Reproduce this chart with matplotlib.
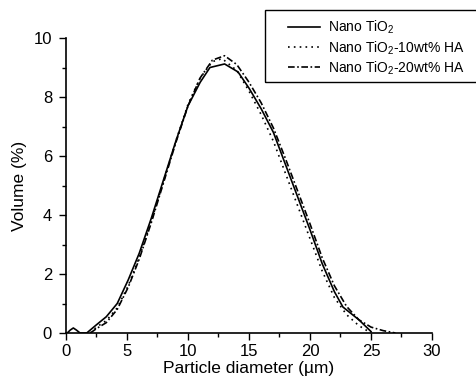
# Particle size distribution of nano TiO2 with HA

import matplotlib
matplotlib.use("Agg")
import matplotlib.pyplot as plt
from matplotlib.patches import Rectangle

plt.rcParams['font.family'] = ['Liberation Sans', 'DejaVu Sans']
plt.rcParams['mathtext.fontset'] = 'custom'
plt.rcParams['mathtext.rm'] = 'Liberation Sans'
plt.rcParams['mathtext.it'] = 'Liberation Sans:italic'

# Nano TiO2
x_tio2 = [0.1, 0.35, 0.6, 0.85, 1.15, 1.7, 2.5, 3.3, 4.2, 5.1, 6.0, 7.0, 8.0, 9.0,
          10.0, 11.0, 11.8, 13.0, 14.1, 15.0, 16.0, 17.0, 18.0, 19.0, 20.0,
          21.0, 22.0, 22.7, 24.0, 25.0]
y_tio2 = [0.0, 0.1, 0.17, 0.1, 0.0, 0.0, 0.28, 0.55, 1.0, 1.8, 2.7, 3.9, 5.2, 6.5,
          7.7, 8.5, 9.0, 9.12, 8.85, 8.3, 7.6, 6.8, 5.7, 4.6, 3.5,
          2.35, 1.4, 0.88, 0.45, 0.05]

# Nano TiO2-10wt% HA
x_10ha = [2.0, 2.5, 3.3, 4.2, 5.1, 6.0, 7.0, 8.0, 9.0, 10.0, 11.0, 12.0, 12.8,
          14.0, 15.0, 16.0, 17.0, 18.0, 19.0, 20.0, 21.0, 22.0, 23.0, 24.0, 25.0]
y_10ha = [0.0, 0.2, 0.42, 0.85, 1.6, 2.55, 3.8, 5.15, 6.5, 7.75, 8.65, 9.2, 9.3,
          8.9, 8.2, 7.4, 6.5, 5.4, 4.3, 3.2, 2.1, 1.2, 0.62, 0.25, 0.0]

# Nano TiO2-20wt% HA
x_20ha = [2.0, 2.5, 3.3, 4.2, 5.1, 6.0, 7.0, 8.0, 9.0, 10.0, 11.0, 12.0, 13.0,
          14.0, 15.0, 16.0, 17.0, 18.0, 19.0, 20.0, 21.0, 22.0, 23.0, 24.0,
          25.0, 26.0, 27.0]
y_20ha = [0.0, 0.15, 0.35, 0.8, 1.55, 2.5, 3.75, 5.1, 6.45, 7.7, 8.65, 9.25, 9.4,
          9.1, 8.5, 7.8, 6.95, 5.9, 4.8, 3.7, 2.55, 1.6, 0.9, 0.45,
          0.2, 0.08, 0.0]

fig = plt.figure(figsize=(4.77, 3.80), dpi=100)
ax = fig.add_axes([66/477, 1-333/380, 366/477, 295/380])

ax.plot(x_tio2, y_tio2, color='black', lw=1.2, ls='-', label='Nano TiO$_2$')
ax.plot(x_10ha, y_10ha, color='black', lw=1.2, ls=(0, (1, 2.5)),
        label='Nano TiO$_2$-10wt% HA')
ax.plot(x_20ha, y_20ha, color='black', lw=1.2, ls=(0, (4, 1.5, 1, 1.5)),
        label='Nano TiO$_2$-20wt% HA')

ax.set_xlim(0, 30)
ax.set_ylim(0, 10)
ax.set_xticks([0, 5, 10, 15, 20, 25, 30])
ax.set_xticks([2.5, 7.5, 12.5, 17.5, 22.5, 27.5], minor=True)
ax.set_yticks([0, 2, 4, 6, 8, 10])
ax.set_yticks([1, 3, 5, 7, 9], minor=True)

ax.spines['top'].set_visible(False)
ax.spines['right'].set_visible(False)
ax.spines['left'].set_linewidth(1.2)
ax.spines['bottom'].set_linewidth(1.2)
ax.tick_params(which='major', direction='out', length=5, width=1.0,
               labelsize=12, pad=3)
ax.tick_params(which='minor', direction='out', length=3, width=1.0)
ax.tick_params(axis='y', pad=5)

ax.set_xlabel('Particle diameter (\u00b5m)', fontsize=12.5, labelpad=1)
ax.set_ylabel('Volume (%)', fontsize=12.5, labelpad=5)

# legend frame runs off the right edge, as in the original
fig.patches.append(Rectangle((265/477, 1-82/380), 240/477, 72/380,
                             transform=fig.transFigure, fill=False,
                             edgecolor='black', lw=1.0))
fig.legend(loc='upper left', bbox_to_anchor=(288/477, 1-19/380),
           bbox_transform=fig.transFigure, borderaxespad=0, borderpad=0,
           frameon=False, fontsize=10, handlelength=2.3, handletextpad=0.6,
           labelspacing=0.2)

plt.savefig('out.png', dpi=100)
